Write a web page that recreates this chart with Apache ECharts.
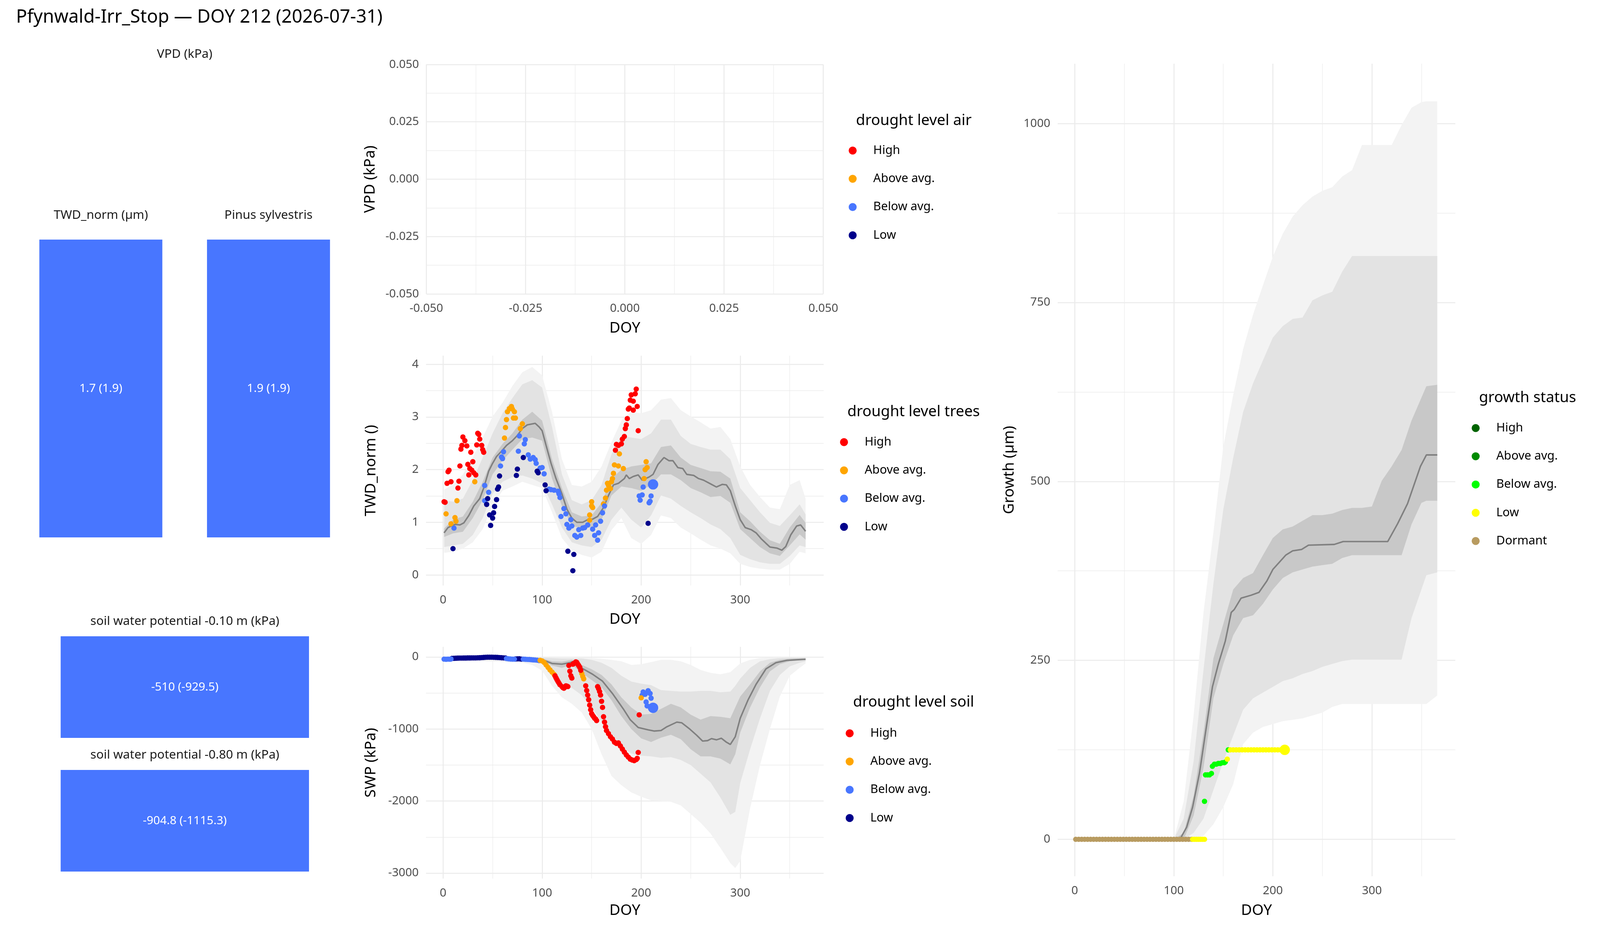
<!DOCTYPE html>
<html>
<head>
<meta charset="utf-8">
<title>Pfynwald-Irr_Stop</title>
<script src="https://cdn.jsdelivr.net/npm/echarts@6.0.0/dist/echarts.min.js"></script>
<style>
  html, body { margin: 0; padding: 0; background: #fff; overflow: hidden; }
  #chart { width: 100vw; height: 100vh; }
</style>
</head>
<body>
<div id="chart"></div>
<script>
// ---------- data ----------
var mainTitle = 'Pfynwald-Irr_Stop \u2014 DOY 212 (2026-07-31)';

var levels = ['High', 'Above avg.', 'Below avg.', 'Low'];
var levelColors = ['#FF0000', '#FFA500', '#4876FF', '#00008B'];
var growthLevels = ['High', 'Above avg.', 'Below avg.', 'Low', 'Dormant'];
var growthColors = ['#006400', '#008B00', '#00FF00', '#FFFF00', '#B89B60'];

// current-value tiles
var tileLabels = ['TWD_norm (\u00b5m)', 'Pinus sylvestris', 'soil water potential -0.10 m (kPa)', 'soil water potential -0.80 m (kPa)'];
var tileNow = [1.7, 1.9, -510, -904.8];
var tileRef = [1.9, 1.9, -929.5, -1115.3];
var tileLevel = ['Below avg.', 'Below avg.', 'Below avg.', 'Below avg.'];

// tick values
var doyTicks = [0, 100, 200, 300];
var doyMinor = [50, 150, 250, 350];
var vpdTicks = [-0.05, -0.025, 0, 0.025, 0.05];
var vpdMinor = [-0.0375, -0.0125, 0.0125, 0.0375];
var twdTicks = [0, 1, 2, 3, 4];
var twdMinor = [0.5, 1.5, 2.5, 3.5];
var swpTicks = [-3000, -2000, -1000, 0];
var swpMinor = [-2500, -1500, -500];
var growthTicks = [0, 250, 500, 750, 1000];
var growthMinor = [125, 375, 625, 875];

// TWD_norm climatology bands
var twdBandDoy = [1, 10, 20, 30, 40, 50, 60, 70, 80, 90, 100, 110, 120, 130, 140, 150, 160, 170, 180, 190, 200, 210, 220, 230, 240, 250, 260, 270, 280, 290, 300, 310, 320, 330, 340, 350, 360, 366];
var twdOuterHi = [1.62, 1.71, 1.91, 2.23, 2.61, 3.01, 3.27, 3.59, 3.85, 3.95, 3.79, 3.10, 2.20, 1.71, 1.68, 1.77, 2.06, 2.52, 2.93, 3.10, 3.07, 3.13, 3.33, 3.36, 3.13, 3.01, 2.90, 2.78, 2.81, 2.58, 2.06, 1.71, 1.48, 1.28, 1.25, 1.71, 1.80, 1.45];
var twdMidHi = [1.42, 1.39, 1.45, 1.80, 2.23, 2.69, 3.07, 3.36, 3.62, 3.70, 3.56, 2.81, 1.91, 1.42, 1.34, 1.42, 1.71, 2.29, 2.64, 2.61, 2.58, 2.69, 2.95, 2.95, 2.64, 2.49, 2.43, 2.38, 2.38, 2.20, 1.65, 1.42, 1.19, 0.99, 0.93, 1.13, 1.34, 1.15];
var twdInHi = [0.88, 1.05, 1.11, 1.39, 1.77, 2.23, 2.49, 2.69, 2.95, 3.10, 2.93, 2.20, 1.65, 1.19, 1.11, 1.13, 1.37, 1.83, 2.00, 2.06, 2.09, 2.12, 2.43, 2.46, 2.23, 2.09, 2.03, 1.97, 1.96, 1.83, 1.19, 1.02, 0.82, 0.66, 0.59, 0.90, 1.14, 0.99];
var twdInLo = [0.72, 0.79, 0.82, 1.08, 1.42, 1.91, 2.17, 2.38, 2.58, 2.61, 2.55, 1.83, 1.31, 0.93, 0.89, 0.90, 1.05, 1.51, 1.68, 1.65, 1.60, 1.71, 1.91, 1.91, 1.80, 1.65, 1.57, 1.48, 1.50, 1.37, 0.87, 0.70, 0.53, 0.41, 0.36, 0.56, 0.77, 0.67];
var twdMidLo = [0.53, 0.56, 0.59, 0.76, 1.08, 1.54, 1.77, 1.86, 1.89, 1.83, 1.74, 1.34, 0.90, 0.62, 0.56, 0.53, 0.67, 1.05, 1.28, 1.05, 0.90, 1.13, 1.51, 1.45, 1.31, 1.19, 1.08, 0.96, 0.87, 0.70, 0.38, 0.30, 0.24, 0.21, 0.21, 0.36, 0.56, 0.53];
var twdOuterLo = [0.42, 0.44, 0.50, 0.62, 0.87, 1.31, 1.60, 1.68, 1.77, 1.71, 1.65, 1.19, 0.70, 0.47, 0.38, 0.33, 0.44, 0.85, 1.08, 0.70, 0.59, 0.76, 1.13, 1.08, 0.90, 0.79, 0.67, 0.56, 0.50, 0.41, 0.21, 0.15, 0.12, 0.10, 0.10, 0.21, 0.44, 0.41];
var twdMedian = [[1, 0.80], [5, 0.90], [12, 0.96], [17, 0.95], [21, 0.99], [26, 1.13], [31, 1.31], [37, 1.45], [41, 1.65], [46, 1.97], [50, 2.12], [54, 2.25], [59, 2.35], [64, 2.46], [70, 2.55], [75, 2.65], [80, 2.78], [85, 2.85], [93, 2.88], [97, 2.81], [100, 2.74], [104, 2.46], [109, 2.12], [114, 1.83], [120, 1.54], [125, 1.25], [130, 1.08], [135, 1.00], [141, 1.00], [146, 1.05], [151, 1.06], [156, 1.11], [162, 1.28], [167, 1.51], [172, 1.71], [177, 1.74], [183, 1.83], [185, 1.90], [188, 1.83], [192, 1.87], [197, 1.90], [201, 1.80], [208, 1.86], [212, 1.91], [217, 2.10], [223, 2.23], [228, 2.17], [232, 2.17], [237, 2.04], [242, 2.02], [246, 1.91], [253, 1.89], [258, 1.83], [263, 1.80], [270, 1.73], [276, 1.67], [282, 1.72], [286, 1.71], [290, 1.60], [295, 1.31], [300, 1.05], [305, 0.90], [311, 0.86], [316, 0.80], [321, 0.69], [326, 0.60], [330, 0.53], [337, 0.51], [342, 0.47], [346, 0.54], [351, 0.76], [357, 0.93], [361, 0.95], [366, 0.83]];

// TWD_norm this year, by drought level
var twdHigh = [[1, 1.39], [2, 1.38], [4, 1.74], [5, 1.96], [6, 1.99], [8, 1.77], [15, 1.65], [16, 1.78], [17, 2.07], [18, 2.39], [19, 2.46], [20, 2.62], [22, 2.55], [24, 2.45], [25, 2.10], [26, 1.90], [27, 2.02], [28, 2.33], [29, 1.99], [30, 2.15], [31, 1.94], [33, 1.90], [34, 2.47], [35, 2.69], [36, 2.67], [37, 2.58], [39, 2.46], [40, 2.38], [41, 2.33],
  [174, 2.37], [175, 2.48], [177, 2.46], [180, 2.49], [181, 2.58], [183, 2.63], [184, 2.78], [185, 2.85], [186, 2.97], [187, 3.15], [188, 3.17], [189, 3.32], [190, 3.42], [192, 3.30], [192, 3.13], [194, 3.44], [195, 3.53], [196, 3.20], [197, 2.74]];
var twdAbove = [[3, 1.16], [8, 0.97], [12, 1.09], [13, 1.02], [14, 1.41], [32, 1.77], [62, 2.60], [63, 2.80], [64, 2.95], [65, 3.10], [67, 3.16], [69, 3.20], [70, 3.15], [71, 2.98], [72, 3.10], [73, 2.98], [78, 2.78], [80, 2.87],
  [148, 1.14], [148, 1.04], [150, 1.39], [150, 1.31], [151, 1.28], [162, 1.35], [164, 1.46], [165, 1.61], [166, 1.74], [167, 1.70], [169, 1.64], [170, 1.77], [171, 1.83], [172, 1.93], [173, 2.09], [177, 2.07], [178, 2.30], [182, 2.02], [203, 1.83], [204, 2.00], [205, 2.15], [206, 2.04]];
var twdBelow = [[11, 0.89], [42, 1.70], [42, 1.41], [46, 1.57], [58, 2.07], [59, 2.24], [60, 2.21], [61, 2.34], [76, 2.35], [77, 2.64], [82, 2.49], [83, 2.57], [86, 2.28], [88, 2.20], [91, 2.23], [93, 2.19], [94, 2.12], [98, 2.03], [100, 2.04], [102, 1.92], [107, 1.63], [109, 1.62], [112, 1.61], [116, 1.59], [117, 1.54], [118, 1.47], [119, 1.11], [122, 1.26], [124, 1.16], [125, 0.96], [127, 0.89], [129, 1.05], [130, 0.93], [133, 0.75], [135, 0.72], [137, 0.86], [139, 0.75], [141, 0.89], [143, 0.90], [146, 0.95], [151, 0.87], [153, 0.75], [154, 0.95], [156, 0.66], [157, 0.80], [159, 1.02], [161, 1.18], [163, 1.31],
  [198, 1.50], [199, 1.42], [201, 1.52], [202, 1.67], [208, 1.37], [209, 1.40], [210, 1.50]];
var twdLow = [[10, 0.50], [44, 1.34], [45, 1.45], [47, 1.14], [48, 0.94], [50, 1.08], [51, 1.18], [52, 1.30], [54, 1.43], [55, 1.63], [56, 1.67], [57, 1.88], [74, 1.89], [75, 2.01], [81, 2.23], [95, 1.97], [96, 1.94], [103, 1.71], [104, 1.60], [126, 0.45], [131, 0.08], [132, 0.39], [207, 0.98]];
var twdNow = [[212, 1.72]];

// soil water potential climatology bands (kPa)
var swpBandDoy = [1, 20, 40, 60, 80, 90, 100, 110, 120, 130, 140, 150, 160, 170, 180, 190, 200, 210, 220, 230, 240, 250, 260, 270, 280, 290, 295, 300, 310, 320, 330, 340, 350, 360, 366];
var swpOuterHi = [-5, -5, -5, -5, -5, -5, -5, -5, -5, -5, -10, -15, -25, -40, -60, -110, -100, -70, -40, -40, -60, -110, -180, -220, -240, -210, -150, -90, -40, -15, -10, -5, -3, -2, -2];
var swpMidHi = [-10, -10, -10, -10, -10, -10, -10, -15, -20, -20, -20, -40, -80, -150, -260, -340, -370, -390, -460, -470, -480, -480, -470, -470, -490, -480, -400, -300, -150, -60, -30, -15, -10, -8, -5];
var swpInHi = [-18, -18, -18, -18, -18, -20, -20, -60, -65, -40, -110, -170, -250, -380, -560, -700, -800, -790, -720, -650, -700, -800, -870, -820, -830, -850, -700, -550, -380, -200, -80, -40, -25, -20, -18];
var swpInLo = [-32, -32, -32, -32, -35, -40, -50, -120, -150, -110, -220, -320, -420, -600, -820, -1000, -1130, -1180, -1120, -1080, -1140, -1280, -1380, -1380, -1410, -1490, -1350, -1050, -700, -420, -200, -100, -60, -45, -40];
var swpMidLo = [-45, -45, -45, -45, -50, -60, -90, -260, -410, -430, -530, -700, -900, -1060, -1240, -1340, -1370, -1380, -1400, -1390, -1430, -1500, -1620, -1740, -1950, -2190, -2150, -1750, -1280, -850, -470, -250, -130, -80, -60];
var swpOuterLo = [-60, -60, -60, -65, -80, -110, -190, -400, -560, -650, -770, -1000, -1350, -1650, -1780, -1880, -1940, -1990, -2000, -2010, -2060, -2180, -2300, -2450, -2650, -2860, -2930, -2830, -2100, -1500, -1000, -550, -260, -150, -90];
var swpMedian = [[1, -25], [30, -22], [60, -22], [90, -28], [99, -32], [110, -90], [120, -100], [128, -79], [133, -54], [140, -154], [151, -240], [161, -336], [171, -507], [182, -722], [189, -872], [197, -979], [207, -1011], [213, -1028], [220, -1021], [226, -968], [236, -904], [241, -914], [249, -1000], [256, -1086], [262, -1167], [267, -1161], [271, -1133], [276, -1150], [281, -1128], [286, -1182], [290, -1214], [295, -1107], [300, -850], [308, -593], [316, -379], [326, -165], [336, -79], [347, -47], [366, -32]];

// soil water potential this year, by drought level
var swpHigh = [[113, -261], [114, -290], [115, -315], [116, -340], [117, -362], [118, -385], [120, -411], [121, -425], [122, -433], [123, -420], [124, -400], [125, -405], [126, -411], [127, -118], [128, -197], [129, -261], [130, -293], [131, -100], [132, -90], [133, -80], [134, -68], [135, -75], [136, -100], [137, -120], [138, -143], [139, -185],
  [144, -400], [145, -465], [146, -529], [147, -593], [148, -668], [149, -732], [150, -786], [151, -810], [152, -829], [153, -850], [154, -861], [155, -882],
  [156, -411], [157, -440], [158, -480], [159, -529], [160, -615], [161, -700], [162, -829], [163, -904], [164, -968], [165, -1021], [167, -1064], [169, -1107], [171, -1139], [173, -1182], [175, -1200], [177, -1193], [179, -1235], [181, -1278], [183, -1320], [185, -1360], [187, -1390], [189, -1418], [191, -1430], [193, -1439], [195, -1424], [196, -1407], [197, -1325], [198, -803]];
var swpAbove = [[98, -47], [100, -55], [102, -75], [104, -110], [106, -145], [108, -180], [110, -210], [112, -240], [140, -229], [141, -270], [142, -304], [200, -567]];
var swpBelow = [[1, -30], [3, -32], [5, -30], [7, -31], [8, -28], [64, -22], [66, -25], [68, -28], [70, -30], [72, -30], [81, -30], [83, -32], [85, -34], [87, -35], [89, -37], [91, -40], [93, -42], [95, -45], [97, -50],
  [201, -529], [202, -486], [204, -518], [205, -625], [206, -679], [207, -469], [209, -507], [210, -572]];
var swpLow = [[9, -20], [11, -18], [13, -17], [15, -16], [17, -15], [19, -15], [21, -14], [23, -14], [25, -13], [27, -13], [29, -12], [31, -12], [33, -12], [35, -11], [37, -10], [39, -8], [41, -6], [43, -4], [45, -3], [47, -3], [49, -3], [51, -4], [53, -5], [55, -6], [57, -8], [59, -10], [61, -12], [63, -14], [73, -28], [75, -26], [77, -25], [79, -30]];
var swpNow = [[212, -705]];

// growth climatology bands (um)
var growthBandDoy = [1, 100, 110, 120, 130, 140, 150, 160, 170, 180, 190, 200, 210, 220, 230, 240, 250, 260, 270, 280, 290, 300, 310, 320, 330, 340, 350, 355, 366];
var growthOuterHi = [0, 0, 53, 173, 317, 429, 549, 621, 685, 733, 774, 814, 846, 870, 886, 898, 906, 911, 926, 935, 970, 970, 970, 970, 998, 1022, 1030, 1031, 1031];
var growthMidHi = [0, 0, 29, 109, 237, 357, 461, 533, 597, 637, 669, 701, 717, 727, 729, 753, 760, 765, 793, 815, 815, 815, 815, 815, 815, 815, 815, 815, 815];
var growthInHi = [0, 0, 9, 61, 149, 253, 301, 349, 365, 372, 397, 421, 433, 437, 445, 453, 453, 455, 460, 463, 463, 465, 501, 521, 544, 585, 617, 633, 635];
var growthInLo = [0, 0, 0, 33, 100, 197, 245, 285, 309, 313, 329, 349, 365, 373, 377, 381, 383, 385, 393, 397, 397, 397, 397, 397, 397, 440, 470, 473, 473];
var growthMidLo = [0, 0, 0, 9, 29, 69, 109, 145, 181, 197, 205, 213, 221, 225, 231, 235, 241, 245, 249, 251, 251, 251, 251, 251, 251, 309, 349, 369, 373];
var growthOuterLo = [0, 0, 0, 0, 5, 21, 45, 77, 133, 149, 157, 161, 165, 167, 169, 173, 177, 185, 189, 189, 189, 189, 189, 189, 189, 189, 189, 189, 201];
var growthMedian = [[1, 0], [100, 0], [107, 2], [113, 17], [119, 45], [126, 93], [132, 149], [139, 213], [145, 245], [152, 277], [158, 317], [161, 321], [168, 337], [178, 341], [186, 345], [194, 361], [200, 377], [213, 397], [220, 403], [229, 405], [236, 411], [262, 412], [271, 416], [316, 416], [326, 441], [336, 469], [342, 493], [349, 521], [355, 537], [366, 537]];

// growth this year, by growth status
var growthBelow = [[131, 53], [132, 90], [134, 90], [136, 90], [138, 92], [139, 102], [141, 105], [143, 105], [145, 106], [147, 106], [149, 107], [151, 107], [152, 108], [155, 125]];
var growthLow = [[119, 0], [121, 0], [123, 0], [125, 0], [127, 0], [129, 0], [131, 0], [154, 112], [157, 125], [160, 125], [163, 125], [166, 125], [169, 125], [172, 125], [175, 125], [178, 125], [181, 125], [184, 125], [187, 125], [190, 125], [193, 125], [196, 125], [199, 125], [202, 125], [205, 125], [208, 125], [211, 125]];
var growthDormant = [[1, 0], [4, 0], [7, 0], [10, 0], [13, 0], [16, 0], [19, 0], [22, 0], [25, 0], [28, 0], [31, 0], [34, 0], [37, 0], [40, 0], [43, 0], [46, 0], [49, 0], [52, 0], [55, 0], [58, 0], [61, 0], [64, 0], [67, 0], [70, 0], [73, 0], [76, 0], [79, 0], [82, 0], [85, 0], [88, 0], [91, 0], [94, 0], [97, 0], [100, 0], [103, 0], [106, 0], [109, 0], [112, 0], [115, 0], [118, 0]];
var growthNow = [[212, 125]];

// ---------- chart ----------
// layout is written for a 4800x2400 page; scale it to the real viewport
var dom = document.getElementById('chart');
var W = window.innerWidth || 4800, H = window.innerHeight || 2400;
var sx = W / 4800, sy = H / 2400, sf = sx;
function X(v) { return v * sx; }
function Y(v) { return v * sy; }
function S(v) { return v * sf; }

var FONT = 'Noto Sans';
var GRIDCOL = '#EBEBEB';
var BAND = ['#F3F3F3', '#E3E3E3', '#C8C8C8'];
var MEDCOL = '#808080';

var grids = [], xAxes = [], yAxes = [], series = [], titles = [];

function colorOf(level) { return levelColors[levels.indexOf(level)]; }

function mainAxis(g, r, ticks, name, gap, isY, fmt) {
    return {
        gridIndex: g, type: 'value', min: r[0], max: r[1],
        position: isY ? 'left' : 'bottom',
        name: name, nameLocation: 'middle', nameGap: isY ? X(gap) : Y(gap), nameRotate: isY ? 90 : 0,
        nameTextStyle: { fontSize: S(45), color: '#000', fontFamily: FONT },
        axisLine: { show: false },
        axisTick: { show: false, customValues: ticks },
        axisLabel: { customValues: ticks, fontSize: S(35), color: '#4D4D4D', fontFamily: FONT,
                     margin: isY ? X(22) : Y(22), formatter: fmt },
        splitLine: { show: true, lineStyle: { color: GRIDCOL, width: S(3) } }
    };
}
function minorAxis(g, r, ticks, isY) {
    return {
        gridIndex: g, type: 'value', min: r[0], max: r[1],
        position: isY ? 'left' : 'bottom',
        axisLine: { show: false },
        axisTick: { show: false, customValues: ticks },
        axisLabel: { show: false, customValues: ticks },
        splitLine: { show: true, lineStyle: { color: GRIDCOL, width: S(1.5) } }
    };
}
// a ggplot-like panel: grid + major/minor axes
function panel(rect, xr, yr, xMaj, xMin, yMaj, yMin, xName, xGap, yName, yGap, fmt) {
    var g = grids.length;
    grids.push({ left: X(rect[0]), top: Y(rect[1]), width: X(rect[2]), height: Y(rect[3]) });
    var p = { x: xAxes.length, y: yAxes.length };
    xAxes.push(mainAxis(g, xr, xMaj, xName, xGap, false, fmt));
    xAxes.push(minorAxis(g, xr, xMin, false));
    yAxes.push(mainAxis(g, yr, yMaj, yName, yGap, true, fmt));
    yAxes.push(minorAxis(g, yr, yMin, true));
    return p;
}
function ribbon(p, doys, lo, hi, color, z) {
    series.push({
        type: 'custom', xAxisIndex: p.x, yAxisIndex: p.y, z: z, silent: true, clip: true,
        data: doys.map(function (d, i) { return [d, lo[i], hi[i]]; }),
        renderItem: function (params, api) {
            if (params.dataIndex !== 0) return;
            var pts = [];
            for (var i = 0; i < doys.length; i++) pts.push(api.coord([doys[i], hi[i]]));
            for (var j = doys.length - 1; j >= 0; j--) pts.push(api.coord([doys[j], lo[j]]));
            return { type: 'polygon', shape: { points: pts }, style: { fill: color } };
        }
    });
}
function median(p, data) {
    series.push({ type: 'line', xAxisIndex: p.x, yAxisIndex: p.y, z: 4, silent: true,
        data: data, symbol: 'none', lineStyle: { color: MEDCOL, width: S(4.5) } });
}
function points(p, name, data, color, size) {
    series.push({ type: 'scatter', name: name, xAxisIndex: p.x, yAxisIndex: p.y, z: 6,
        data: data, symbol: 'circle', symbolSize: S(size), itemStyle: { color: color, opacity: 1 } });
}
// text label centred vertically on cy (4800x2400 units)
function label(text, left, cy, size, color, center) {
    var t = { text: text, left: X(left), top: Y(cy) - S(size) / 2, padding: 0,
        textStyle: { fontSize: S(size), lineHeight: S(size), fontWeight: 'normal', color: color, fontFamily: FONT } };
    if (center) t.textAlign = 'center';
    titles.push(t);
}

var doyRange = [-17.25, 384.25];
var fmtPlain = function (v) { return String(v); };

label(mainTitle, 48, 45, 55, '#000', false);
label('VPD (kPa)', 554, 139, 37, '#1A1A1A', true);

// VPD panel (no data)
var pV = panel([1279, 165, 1191, 587], [-0.05, 0.05], [-0.05, 0.05], vpdTicks, vpdMinor, vpdTicks, vpdMinor,
    'DOY', 69, 'VPD (kPa)', 146, function (v) { return v.toFixed(3); });

// TWD panel
var pT = panel([1278, 910, 1193, 588], doyRange, [-0.2, 4.165], doyTicks, doyMinor, twdTicks, twdMinor,
    'DOY', 68, 'TWD_norm ()', 142, fmtPlain);
ribbon(pT, twdBandDoy, twdOuterLo, twdOuterHi, BAND[0], 1);
ribbon(pT, twdBandDoy, twdMidLo, twdMidHi, BAND[1], 2);
ribbon(pT, twdBandDoy, twdInLo, twdInHi, BAND[2], 3);
median(pT, twdMedian);
points(pT, levels[0], twdHigh, levelColors[0], 16);
points(pT, levels[1], twdAbove, levelColors[1], 16);
points(pT, levels[2], twdBelow, levelColors[2], 16);
points(pT, levels[3], twdLow, levelColors[3], 16);
points(pT, 'twd today', twdNow, levelColors[2], 31);

// SWP panel
var pS = panel([1278, 1655, 1193, 593], doyRange, [-3076, 141], doyTicks, doyMinor, swpTicks, swpMinor,
    'DOY', 63, 'SWP (kPa)', 142, fmtPlain);
ribbon(pS, swpBandDoy, swpOuterLo, swpOuterHi, BAND[0], 1);
ribbon(pS, swpBandDoy, swpMidLo, swpMidHi, BAND[1], 2);
ribbon(pS, swpBandDoy, swpInLo, swpInHi, BAND[2], 3);
median(pS, swpMedian);
points(pS, levels[3], swpLow, levelColors[3], 16);
points(pS, levels[2], swpBelow, levelColors[2], 16);
points(pS, levels[1], swpAbove, levelColors[1], 16);
points(pS, levels[0], swpHigh, levelColors[0], 16);
points(pS, 'swp today', swpNow, levelColors[2], 31);

// growth panel
var pG = panel([3173, 163, 1193, 2079], doyRange, [-51.6, 1083.6], doyTicks, doyMinor, growthTicks, growthMinor,
    'DOY', 69, 'Growth (\u00b5m)', 122, fmtPlain);
ribbon(pG, growthBandDoy, growthOuterLo, growthOuterHi, BAND[0], 1);
ribbon(pG, growthBandDoy, growthMidLo, growthMidHi, BAND[1], 2);
ribbon(pG, growthBandDoy, growthInLo, growthInHi, BAND[2], 3);
median(pG, growthMedian);
points(pG, 'growth: ' + growthLevels[0], [], growthColors[0], 16);
points(pG, 'growth: ' + growthLevels[1], [], growthColors[1], 16);
points(pG, 'growth: ' + growthLevels[4], growthDormant, growthColors[4], 16);
points(pG, 'growth: ' + growthLevels[2], growthBelow, growthColors[2], 16);
points(pG, 'growth: ' + growthLevels[3], growthLow, growthColors[3], 16);
points(pG, 'growth today', growthNow, growthColors[3], 31);

// current-value tiles
var tileRects = [[118, 613, 369, 762], [621, 613, 369, 762], [182, 1628, 745, 260], [182, 1970, 745, 260]];
var tileTitleY = [551, 551, 1590, 1932];
tileRects.forEach(function (r, i) {
    var g = grids.length;
    grids.push({ left: X(r[0]), top: Y(r[1]), width: X(r[2]), height: Y(r[3]) });
    var xi = xAxes.length, yi = yAxes.length;
    xAxes.push({ gridIndex: g, type: 'category', data: [tileLabels[i]], show: false });
    yAxes.push({ gridIndex: g, type: 'value', min: 0, max: 1, show: false });
    series.push({
        type: 'bar', xAxisIndex: xi, yAxisIndex: yi, barWidth: '100%', silent: true,
        data: [{ value: 1, itemStyle: { color: colorOf(tileLevel[i]) } }],
        label: { show: true, position: 'inside', color: '#fff', fontSize: S(35), fontFamily: FONT,
                 formatter: function () { return tileNow[i] + ' (' + tileRef[i] + ')'; } }
    });
    label(tileLabels[i], r[0] + r[2] / 2, tileTitleY[i], 37, '#1A1A1A', true);
});

// legends
function legend(names, dotX, firstY, fmt) {
    return {
        data: names, orient: 'vertical', left: X(dotX) - S(56), top: Y(firstY) - S(18), padding: 0,
        icon: 'circle', itemWidth: S(112), itemHeight: S(24), itemGap: Y(72) - S(36), selectedMode: false,
        formatter: fmt,
        textStyle: { fontSize: S(36), lineHeight: S(36), color: '#000', fontFamily: FONT }
    };
}
label('drought level air', 2568, 309, 45, '#000', false);
label('drought level trees', 2542, 1054, 45, '#000', false);
label('drought level soil', 2559, 1797, 45, '#000', false);
label('growth status', 4437, 1018, 45, '#000', false);

var myChart = echarts.init(dom);
myChart.setOption({
    animation: false,
    backgroundColor: '#fff',
    textStyle: { fontFamily: FONT },
    title: titles,
    grid: grids,
    xAxis: xAxes,
    yAxis: yAxes,
    legend: [
        legend(levels, 2602, 385),
        legend(levels, 2576, 1131),
        legend(levels, 2593, 1876),
        legend(growthLevels.map(function (l) { return 'growth: ' + l; }), 4471, 1095,
            function (n) { return n.replace('growth: ', ''); })
    ],
    series: series
});
</script>
</body>
</html>
